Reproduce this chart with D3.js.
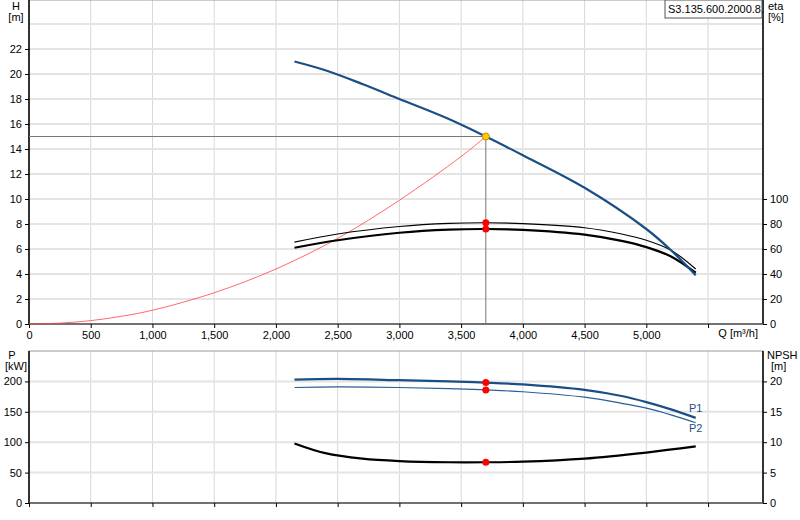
<!DOCTYPE html>
<html><head><meta charset="utf-8">
<script src="https://cdn.jsdelivr.net/npm/d3@7"></script>
<style>body{margin:0;background:#fff}text{font-family:"Liberation Sans",Arial,sans-serif;font-size:11px}</style>
</head><body>
<script>
const hQ = [2150, 2400, 2700, 3000, 3400, 3700, 4000, 4500, 5000, 5200, 5400];
const hVal = [21, 20.3, 19.2, 18, 16.4, 15, 13.5, 10.9, 7.6, 5.9, 3.9];
const sysQ = [0, 250, 500, 750, 1000, 1500, 2000, 2500, 3000, 3500, 3700];
const sysH = [0, 0.07, 0.27, 0.62, 1.1, 2.5, 4.4, 6.85, 9.9, 13.4, 15];
const etaQ = [2150, 2500, 3000, 3400, 3700, 4000, 4500, 4800, 5000, 5200, 5400];
const eta1 = [65.5, 72, 78, 80.5, 81, 80.3, 77, 72, 67, 59, 44];
const eta2 = [61, 67, 73, 75.5, 76, 75.3, 71.5, 66.5, 61.5, 54, 41];
const pQ = [2150, 2500, 3000, 3400, 3700, 4000, 4500, 4800, 5000, 5200, 5400];
const p1 = [203, 204, 202, 200, 198, 195, 186, 176, 166, 154, 140];
const p2 = [190, 191, 190, 188, 186, 183, 174, 164, 156, 145, 132];
const npQ = [2150, 2400, 2700, 3000, 3400, 3700, 4000, 4500, 5000, 5400];
const npsh = [9.8, 8.2, 7.3, 6.9, 6.7, 6.7, 6.8, 7.3, 8.3, 9.3];
const opQ = 3700, opH = 15, opEta1 = 81, opEta2 = 76, opP1 = 198, opP2 = 186, opNpsh = 6.7;
const qTicks = [0, 500, 1000, 1500, 2000, 2500, 3000, 3500, 4000, 4500, 5000];
const hTicks = [0, 2, 4, 6, 8, 10, 12, 14, 16, 18, 20, 22];
const etaTicks = [0, 20, 40, 60, 80, 100];
const pTicks = [0, 50, 100, 150, 200];
const npTicks = [0, 5, 10, 15, 20];

const svg = d3.select("body").append("svg").attr("width", 800).attr("height", 520);
const L = 29, R = 763;
const x = d3.scaleLinear().domain([0, 5945]).range([L, R]);
const yH = d3.scaleLinear().domain([0, 26]).range([324, -1]);
const yE = d3.scaleLinear().domain([0, 260]).range([324, -1]);
const yP = d3.scaleLinear().domain([0, 250]).range([503, 351]);
const yN = d3.scaleLinear().domain([0, 25]).range([503, 351]);
const grid = "#d8d8d8";

function panel(y, top, bottom, ticksY) {
  const g = svg.append("g");
  d3.range(500, 6000, 500).forEach(q => g.append("line").attr("x1", x(q)).attr("x2", x(q))
    .attr("y1", top).attr("y2", bottom).attr("stroke", grid));
  ticksY.forEach(v => g.append("line").attr("x1", L).attr("x2", R).attr("y1", y(v)).attr("y2", y(v)).attr("stroke", "#e4e4e4").attr("stroke-width", 2));
  g.append("rect").attr("x", L).attr("y", top).attr("width", R - L).attr("height", bottom - top)
    .attr("fill", "none").attr("stroke", "#999");
}
panel(yH, 0, 324, d3.range(2, 26, 2));
panel(yP, 351, 503, [50, 100, 150, 200]);

const axisY = (sc, ticks, side, xpos) => {
  const a = (side === "l" ? d3.axisLeft(sc) : d3.axisRight(sc)).tickValues(ticks).tickSize(4).tickPadding(3);
  const g = svg.append("g").attr("transform", `translate(${xpos},0)`).call(a);
  g.select(".domain").remove();
  g.selectAll("text").style("font-size", "11px").attr("fill", "#000");
  return g;
};
axisY(yH, hTicks, "l", L); axisY(yE, etaTicks, "r", R);
axisY(yP, pTicks, "l", L); axisY(yN, npTicks, "r", R);
[L, R].forEach(xx => {
  svg.append("line").attr("x1", xx).attr("x2", xx).attr("y1", 0).attr("y2", 324).attr("stroke", "#000").attr("stroke-width", 1.5);
  svg.append("line").attr("x1", xx).attr("x2", xx).attr("y1", 351).attr("y2", 503).attr("stroke", "#000").attr("stroke-width", 1.5);
});
[324, 503].forEach(yy => svg.append("line").attr("x1", L).attr("x2", R).attr("y1", yy).attr("y2", yy).attr("stroke", "#555").attr("stroke-width", 1.5));
const xa = svg.append("g").attr("transform", "translate(0,324)").call(d3.axisBottom(x).tickValues(qTicks).tickSize(4).tickFormat(d3.format(",")));
xa.select(".domain").remove(); xa.selectAll("text").style("font-size", "11px");
svg.append("g").attr("transform", "translate(0,324)").call(d3.axisBottom(x).tickValues([5500]).tickSize(4).tickFormat("")).select(".domain").remove();
const xb = svg.append("g").attr("transform", "translate(0,503)").call(d3.axisBottom(x).tickValues(d3.range(0, 6000, 500)).tickSize(4).tickFormat(""));
xb.select(".domain").remove();

const txt = (t, xx, yy, anchor = "middle", col = "#000") => svg.append("text").attr("x", xx).attr("y", yy).attr("text-anchor", anchor).attr("fill", col).text(t);
txt("H", 16, 10); txt("[m]", 16, 21);
txt("eta", 768, 10, "start"); txt("[%]", 768, 21, "start");
txt("Q [m³/h]", 758, 337, "end");
txt("P", 12, 359, "middle"); txt("[kW]", 16, 370);
txt("NPSH", 767, 359, "start"); txt("[m]", 771, 370, "start");
svg.append("rect").attr("x", 665).attr("y", 0).attr("width", 97).attr("height", 18).attr("fill", "#fff").attr("stroke", "#555");
txt("S3.135.600.2000.8.", 668, 13, "start");

const line = (xs, ys, yS) => d3.line().curve(d3.curveCatmullRom).x((d, i) => x(xs[i])).y(d => yS(d))(ys);
const path = (d, col, w) => svg.append("path").attr("d", d).attr("fill", "none").attr("stroke", col).attr("stroke-width", w);

// operating point crosshair
svg.append("line").attr("x1", L).attr("x2", x(opQ)).attr("y1", yH(opH)).attr("y2", yH(opH)).attr("stroke", "#777");
svg.append("line").attr("x1", x(opQ)).attr("x2", x(opQ)).attr("y1", yH(opH)).attr("y2", 324).attr("stroke", "#777");

path(line(sysQ, sysH, yH), "#f44", 0.8);
path(line(etaQ, eta1, yE), "#000", 1.2);
path(line(etaQ, eta2, yE), "#000", 2.2);
path(line(hQ, hVal, yH), "#1a4f86", 2.2);
path(line(pQ, p1, yP), "#1a4f86", 2.2);
path(line(pQ, p2, yP), "#2a5f96", 1.2);
path(line(npQ, npsh, yN), "#000", 2.2);

const dot = (yy, fill = "#f00") => svg.append("circle").attr("cx", x(opQ)).attr("cy", yy).attr("r", 3.5).attr("fill", fill).attr("stroke", fill === "#f00" ? "none" : "#c80").attr("stroke-width", 1);
dot(yE(opEta1)); dot(yE(opEta2)); dot(yP(opP1)); dot(yP(opP2)); dot(yN(opNpsh));
dot(yH(opH), "#fc0");

txt("P1", 689, 412, "start", "#1a4f86");
txt("P2", 689, 432, "start", "#1a4f86");
</script>
</body></html>
